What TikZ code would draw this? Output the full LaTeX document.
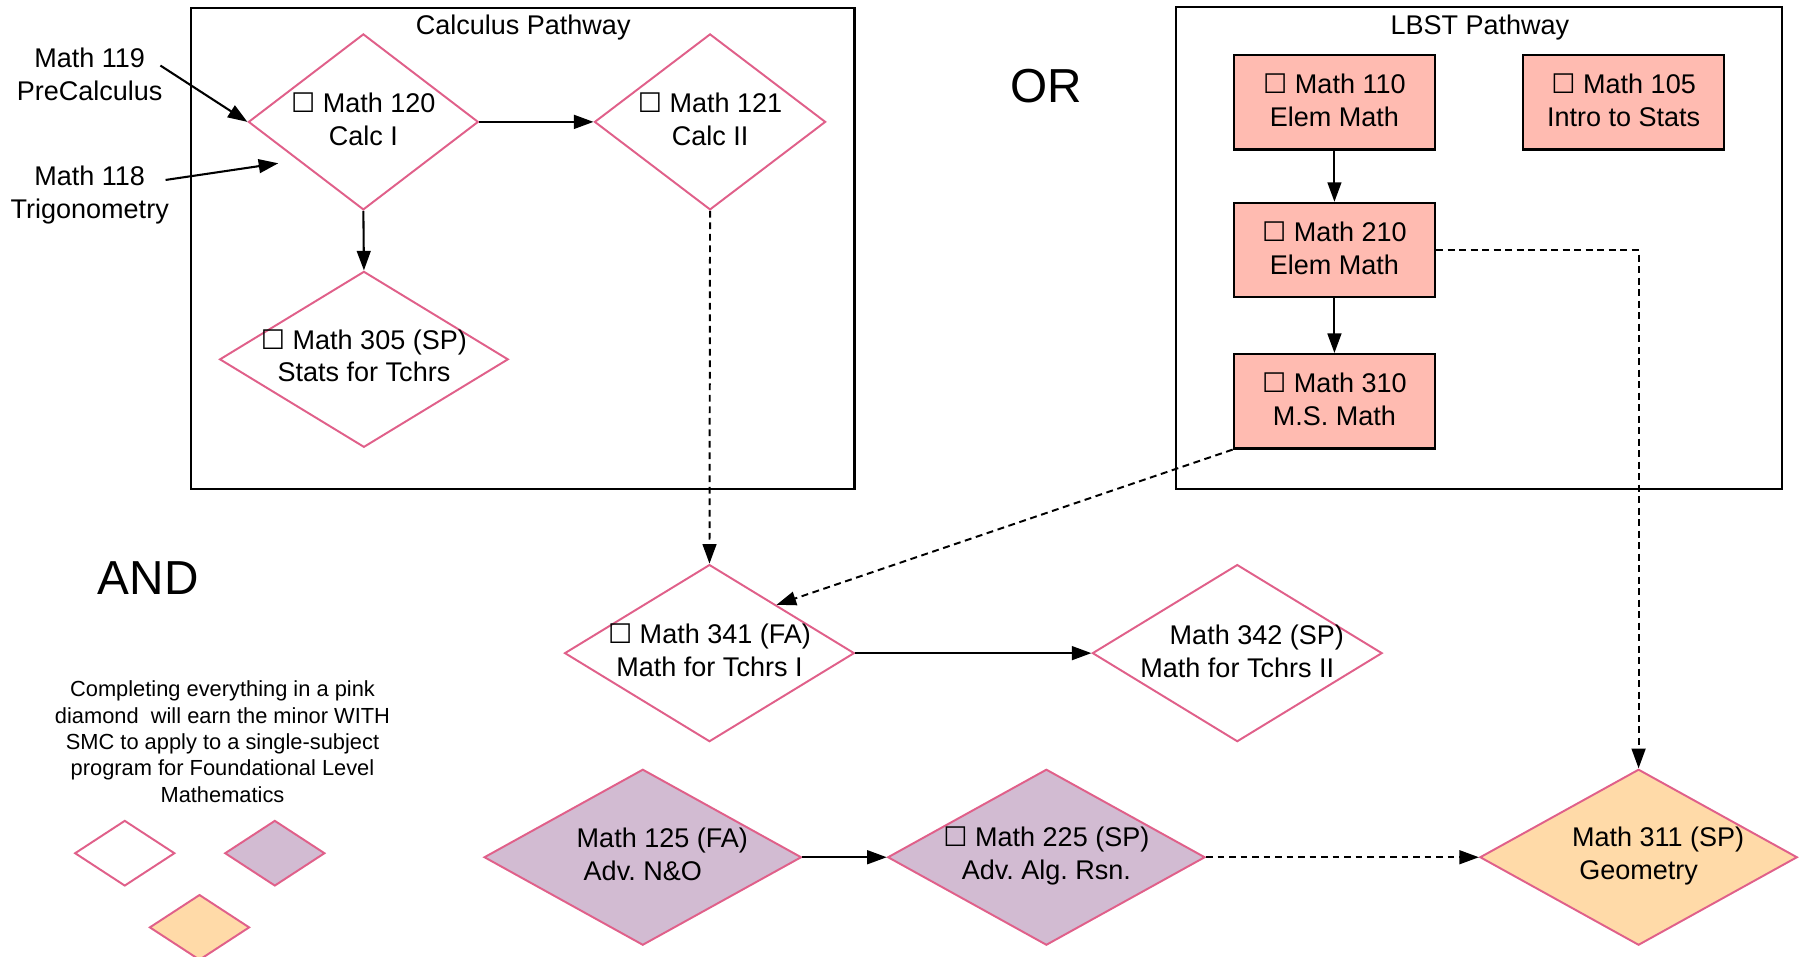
\documentclass[tikz,border=0pt]{standalone}
\usepackage{fontspec}
\setmainfont{Liberation Sans}
\newfontfamily\boxglyph{DejaVu Sans}
\usetikzlibrary{shapes, arrows.meta, positioning, calc}
\frenchspacing

\newcommand{\chk}{{\boxglyph ☐}}
\newcommand{\nochk}{\hspace*{34pt}}

\begin{document}
\begin{tikzpicture}[x=1pt, y=-1pt, >={Triangle[length=17pt, width=12pt]},
    txt/.style={font=\fontsize{23.5}{28.5}\selectfont, align=center, inner sep=0pt},
    course/.style={diamond, draw=diamond_edge, line width=1.7pt, inner sep=0pt},
    lbst/.style={rectangle, draw, line width=2pt, fill=lbst_fill, minimum width=175pt, minimum height=82pt, inner sep=0pt, font=\fontsize{23.5}{28.5}\selectfont, align=center},
    pathbox/.style={draw, line width=2pt, inner sep=0pt},
    link/.style={->, line width=1.8pt},
    maybe/.style={->, line width=1.7pt, dash pattern=on 6pt off 4pt}]

    % Define colors
    \definecolor{diamond_edge}{RGB}{224, 96, 138}
    \definecolor{lbst_fill}{RGB}{255, 187, 177}
    \definecolor{adv_fill}{RGB}{210, 187, 210}
    \definecolor{geo_fill}{RGB}{255, 218, 168}

    \useasboundingbox (0,0) rectangle (1568,832);

    % Pathway boxes
    \node[pathbox, minimum width=577pt, minimum height=418pt] (calcbox) at (454.5,216) {};
    \node[txt] (calctitle) at (455,23.5) {Calculus Pathway};
    \node[pathbox, minimum width=527pt, minimum height=419pt] (lbstbox) at (1286.5,215.5) {};
    \node[txt] (lbsttitle) at (1287,23.5) {LBST Pathway};

    \node[font=\fontsize{41.5}{48}\selectfont, inner sep=0pt] (ortext) at (910,75) {OR};
    \node[font=\fontsize{41.5}{48}\selectfont, inner sep=0pt] (andtext) at (129,503) {AND};

    % Calculus pathway
    \node[course, minimum width=200pt, minimum height=153pt] (m120) at (316,106) {};
    \node[txt] (m120t) at (316,103.5) {\chk\ Math 120\\Calc I};
    \node[course, minimum width=201pt, minimum height=153pt] (m121) at (617.5,106) {};
    \node[txt] (m121t) at (617.5,103.5) {\chk\ Math 121\\Calc II};
    \node[course, minimum width=251pt, minimum height=153pt] (m305) at (316.5,312.5) {};
    \node[txt] (m305t) at (316.5,309.5) {\chk\ Math 305 (SP)\\Stats for Tchrs};

    \node[txt] (m119) at (78,64.5) {Math 119\\PreCalculus};
    \node[txt] (m118) at (78,169.5) {Math 118\\Trigonometry};
    \coordinate (p119) at (139.5,57);
    \coordinate (p118) at (144,156.5);
    \coordinate (p118end) at (242,142);

    \draw[link] (p119) -- (m120.west);
    \draw[link] (p118) -- (p118end);
    \draw[link] (m120.east) -- (m121.west);
    \draw[link] (m120.south) -- (m305.north);

    % LBST pathway
    \node[lbst] (m110) at (1160.5,89) {\chk\ Math 110\\Elem Math\rule[-4pt]{0pt}{1pt}};
    \node[lbst] (m105) at (1412,89) {\chk\ Math 105\\Intro to Stats\rule[-4pt]{0pt}{1pt}};
    \node[lbst] (m210) at (1160.5,217.5) {\chk\ Math 210\\Elem Math\rule[-4pt]{0pt}{1pt}};
    \node[lbst] (m310) at (1160.5,349) {\chk\ Math 310\\M.S. Math\rule[-4pt]{0pt}{1pt}};

    \draw[link] (m110.south) -- (m210.north);
    \draw[link] (m210.south) -- (m310.north);

    % Teacher courses
    \node[course, minimum width=252pt, minimum height=154pt] (m341) at (617,568) {};
    \node[txt] (m341t) at (617,565.5) {\chk\ Math 341 (FA)\\Math for Tchrs I};
    \node[course, minimum width=252pt, minimum height=154pt] (m342) at (1076,568) {};
    \node[txt] (m342t) at (1076,566.5) {\nochk Math 342 (SP)\\Math for Tchrs II};

    \node[course, fill=adv_fill, minimum width=276pt, minimum height=153pt] (m125) at (559,745.5) {};
    \node[txt] (m125t) at (559,743) {\nochk Math 125 (FA)\\Adv. N\&O};
    \node[course, fill=adv_fill, minimum width=276pt, minimum height=153pt] (m225) at (910,745.5) {};
    \node[txt] (m225t) at (910,744.5) {\chk\ Math 225 (SP)\\Adv. Alg. Rsn.};
    \node[course, fill=geo_fill, minimum width=276pt, minimum height=153pt] (m311) at (1425,745.5) {};
    \node[txt] (m311t) at (1425,744.5) {\nochk Math 311 (SP)\\Geometry};

    \draw[maybe] (m121.south) -- (m341.north);
    \draw[maybe] (m310.south west) -- ($(m341.north)!0.46!(m341.east)$);
    \draw[maybe] (m210.east) -| (m311.north);
    \draw[link] (m341.east) -- (m342.west);
    \draw[link] (m125.east) -- (m225.west);
    \draw[maybe] (m225.east) -- (m311.west);

    % Legend
    \node[align=center, inner sep=0pt, font=\fontsize{19}{23}\selectfont] (legend) at (193.5,645) {
        Completing everything in a pink\\
        diamond~ will earn the minor WITH\\
        SMC to apply to a single-subject\\
        program for Foundational Level\\
        Mathematics};
    \node[course, minimum width=87pt, minimum height=57pt] (lgwhite) at (108.5,742) {};
    \node[course, fill=adv_fill, minimum width=87pt, minimum height=57pt] (lgpurple) at (239,742) {};
    \node[course, fill=geo_fill, minimum width=87pt, minimum height=57pt] (lgorange) at (173.5,806.5) {};

\end{tikzpicture}
\end{document}
